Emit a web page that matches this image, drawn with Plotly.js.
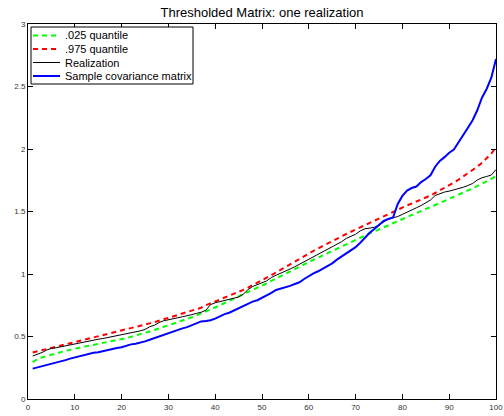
<!DOCTYPE html>
<html>
<head>
<meta charset="utf-8">
<script src="https://cdn.plot.ly/plotly-3.0.1.min.js"></script>
<style>html,body{margin:0;padding:0;background:#fff;}#chart{width:504px;height:416px;}</style>
</head>
<body>
<div id="chart"></div>
<script>
// x positions (eigenvalue index 1..100)
const idx = [];
for (let i = 1; i <= 100; i++) idx.push(i);

// .025 quantile (green dashed)
const q025 = [0.295,0.318,0.333,0.345,0.355,0.365,0.375,0.385,0.395,0.405,
0.412,0.419,0.426,0.433,0.440,0.447,0.455,0.462,0.470,0.478,
0.487,0.497,0.507,0.517,0.528,0.540,0.552,0.564,0.576,0.588,
0.601,0.614,0.627,0.640,0.654,0.668,0.683,0.699,0.714,0.730,
0.749,0.768,0.787,0.806,0.825,0.841,0.857,0.873,0.889,0.905,
0.925,0.945,0.963,0.982,1.001,1.020,1.039,1.058,1.077,1.096,
1.114,1.132,1.150,1.168,1.186,1.204,1.222,1.240,1.257,1.274,
1.291,1.308,1.325,1.340,1.355,1.372,1.389,1.406,1.423,1.440,
1.456,1.472,1.488,1.504,1.520,1.536,1.552,1.568,1.584,1.600,
1.617,1.634,1.651,1.668,1.685,1.703,1.721,1.740,1.760,1.784];

// .975 quantile (red dashed)
const q975 = [0.372,0.382,0.392,0.401,0.410,0.419,0.428,0.437,0.446,0.455,
0.464,0.473,0.482,0.491,0.500,0.509,0.518,0.527,0.536,0.545,
0.555,0.565,0.575,0.585,0.595,0.605,0.615,0.626,0.637,0.648,
0.659,0.670,0.681,0.692,0.703,0.716,0.730,0.750,0.765,0.778,
0.792,0.807,0.822,0.838,0.855,0.873,0.891,0.910,0.930,0.950,
0.970,0.991,1.013,1.035,1.058,1.080,1.102,1.123,1.144,1.165,
1.185,1.205,1.225,1.245,1.264,1.283,1.302,1.320,1.338,1.356,
1.374,1.392,1.410,1.428,1.446,1.464,1.482,1.499,1.516,1.533,
1.549,1.564,1.579,1.595,1.611,1.628,1.648,1.668,1.689,1.710,
1.732,1.755,1.779,1.804,1.830,1.858,1.889,1.923,1.963,2.015];

// Realization (black)
const realization = [0.344,0.355,0.372,0.392,0.405,0.410,0.418,0.425,0.435,0.443,
0.450,0.458,0.464,0.470,0.478,0.484,0.491,0.498,0.506,0.515,
0.523,0.530,0.536,0.545,0.556,0.578,0.590,0.612,0.626,0.636,
0.643,0.650,0.658,0.664,0.675,0.685,0.694,0.710,0.755,0.770,
0.779,0.788,0.797,0.806,0.816,0.838,0.875,0.900,0.918,0.930,
0.945,0.972,0.990,1.005,1.022,1.040,1.058,1.078,1.098,1.115,
1.138,1.160,1.178,1.195,1.215,1.235,1.258,1.285,1.300,1.318,
1.345,1.362,1.367,1.374,1.392,1.418,1.440,1.450,1.460,1.477,
1.493,1.512,1.530,1.548,1.570,1.592,1.628,1.645,1.656,1.663,
1.672,1.682,1.694,1.708,1.724,1.752,1.770,1.780,1.792,1.835];

// Sample covariance matrix (blue)
const sampleCov = [0.243,0.252,0.262,0.272,0.281,0.291,0.300,0.311,0.323,0.333,
0.339,0.350,0.363,0.370,0.374,0.383,0.392,0.404,0.408,0.414,
0.428,0.437,0.442,0.450,0.461,0.474,0.487,0.500,0.518,0.532,
0.543,0.553,0.565,0.575,0.591,0.606,0.621,0.624,0.630,0.643,
0.664,0.679,0.690,0.708,0.725,0.738,0.756,0.779,0.790,0.808,
0.826,0.849,0.872,0.881,0.892,0.905,0.920,0.934,0.960,0.985,
1.005,1.022,1.045,1.063,1.085,1.115,1.140,1.165,1.185,1.215,
1.250,1.290,1.330,1.360,1.392,1.425,1.440,1.452,1.560,1.625,
1.668,1.688,1.700,1.735,1.760,1.790,1.858,1.905,1.935,1.970,
1.995,2.050,2.115,2.170,2.230,2.310,2.410,2.480,2.570,2.720];

const seriesNames = ['.025 quantile', '.975 quantile', 'Realization', 'Sample covariance matrix'];
const xTicks = [0,10,20,30,40,50,60,70,80,90,100];
const yTicks = [0,0.5,1,1.5,2,2.5,3];
const yTickText = ['0','0.5','1','1.5','2','2.5','3'];

const FONT = 'Liberation Sans, Arial, Helvetica, sans-serif';
const lineStyles = [
  {color: '#00ff00', width: 2, dash: '5px,4px'},
  {color: '#ff0000', width: 2, dash: '5px,4px'},
  {color: '#000000', width: 1},
  {color: '#0000ff', width: 2}
];
const seriesY = [q025, q975, realization, sampleCov];

const traces = seriesY.map((ys, i) => ({
  x: idx, y: ys, name: seriesNames[i], mode: 'lines', line: lineStyles[i], showlegend: false
}));

// --- compact MATLAB-style legend box (paper coordinates) ---
const W = 504, H = 416, M = {l: 28, r: 8, t: 24, b: 17};
const pw = W - M.l - M.r, ph = H - M.t - M.b;
const fx = px => (px - M.l) / pw;
const fy = py => (H - M.b - py) / ph;
const legBox = {left: 31, right: 193, top: 27, bottom: 84};
const legRows = [35.5, 49, 62.5, 76];
const legLine = {x0: 33, x1: 60}, legTextX = 63;

const shapes = [{
  type: 'rect', xref: 'paper', yref: 'paper', layer: 'above',
  x0: fx(legBox.left), x1: fx(legBox.right), y0: fy(legBox.bottom), y1: fy(legBox.top),
  fillcolor: '#fff', line: {color: '#000', width: 1}
}];
const annotations = [];
seriesNames.forEach((nm, i) => {
  shapes.push({type: 'line', xref: 'paper', yref: 'paper', layer: 'above',
    x0: fx(legLine.x0), x1: fx(legLine.x1), y0: fy(legRows[i]), y1: fy(legRows[i]),
    line: lineStyles[i]});
  annotations.push({xref: 'paper', yref: 'paper', x: fx(legTextX), y: fy(legRows[i]),
    xanchor: 'left', yanchor: 'middle', showarrow: false, text: nm,
    font: {family: FONT, size: 11, color: '#000'}});
});

const axisCommon = {
  showline: true, linecolor: '#000', linewidth: 1, mirror: 'ticks',
  ticks: 'inside', ticklen: 5, tickcolor: '#000', tickwidth: 1,
  showgrid: false, zeroline: false,
  tickfont: {family: FONT, size: 8, color: '#333'}
};

const layout = {
  width: W, height: H,
  margin: M,
  paper_bgcolor: '#fff', plot_bgcolor: '#fff',
  title: {text: 'Thresholded Matrix: one realization',
    font: {family: FONT, size: 13, color: '#000'},
    xref: 'paper', x: 0.5, xanchor: 'center', yref: 'container', y: 1 - 12 / H, yanchor: 'middle'},
  xaxis: Object.assign({}, axisCommon, {range: [0, 100], tickvals: xTicks, ticklabelstandoff: 0}),
  yaxis: Object.assign({}, axisCommon, {range: [0, 3], tickvals: yTicks, ticktext: yTickText, ticklabelstandoff: 0}),
  showlegend: false,
  shapes: shapes,
  annotations: annotations
};

Plotly.newPlot('chart', traces, layout, {displayModeBar: false, staticPlot: true});
</script>
</body>
</html>
